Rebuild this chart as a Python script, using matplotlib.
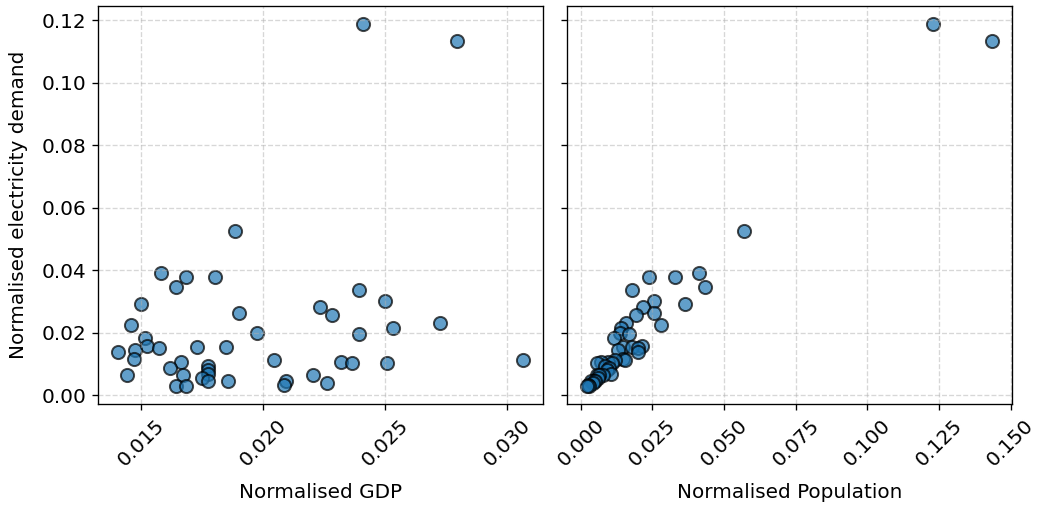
import numpy as np
import matplotlib
matplotlib.use("Agg")
import matplotlib.pyplot as plt

# normalised values per region
demand = [0.1187, 0.1132, 0.0526, 0.0391, 0.0379, 0.0379, 0.0348, 0.0336,
          0.0302, 0.0292, 0.0283, 0.0265, 0.0256, 0.0233, 0.0225, 0.0215,
          0.0199, 0.0196, 0.0184, 0.0157, 0.0154, 0.0154, 0.0152, 0.0145,
          0.0139, 0.0118, 0.0115, 0.0113, 0.0107, 0.0106, 0.0103, 0.0103,
          0.0093, 0.0088, 0.0083, 0.0070, 0.0065, 0.0065, 0.0065, 0.0055,
          0.0046, 0.0046, 0.0046, 0.0040, 0.0032, 0.0031, 0.0031]
gdp = [0.02408, 0.02794, 0.01884, 0.01580, 0.01682, 0.01802, 0.01644, 0.02391,
       0.02500, 0.01497, 0.02233, 0.01900, 0.02280, 0.02723, 0.01460, 0.02530,
       0.01976, 0.02391, 0.01514, 0.01523, 0.01727, 0.01848, 0.01571, 0.01476,
       0.01405, 0.01470, 0.02042, 0.03063, 0.02318, 0.01663, 0.02364, 0.02509,
       0.01775, 0.01617, 0.01775, 0.01775, 0.01442, 0.01671, 0.02205, 0.01750,
       0.01775, 0.01857, 0.02095, 0.02263, 0.02085, 0.01644, 0.01682]
population = [0.1228, 0.1434, 0.0569, 0.0414, 0.0328, 0.0238, 0.0435, 0.0179,
              0.0256, 0.0363, 0.0216, 0.0254, 0.0193, 0.0157, 0.0279, 0.0142,
              0.0136, 0.0168, 0.0115, 0.0212, 0.0148, 0.0177, 0.0200, 0.0130,
              0.0200, 0.0148, 0.0153, 0.0119, 0.0095, 0.0072, 0.0055, 0.0110,
              0.0085, 0.0100, 0.0090, 0.0107, 0.0078, 0.0055, 0.0065, 0.0060,
              0.0045, 0.0037, 0.0050, 0.0043, 0.0025, 0.0030, 0.0022]

plt.rcParams['font.size'] = 12

fig, (ax1, ax2) = plt.subplots(1, 2, figsize=(1041 / 120, 508 / 120), dpi=120, sharey=True)
fig.subplots_adjust(left=0.094, right=0.972, top=0.988, bottom=0.205, wspace=0.054)

ax1.scatter(gdp, demand, s=62, color='#1f77b4', alpha=0.7, edgecolor='k', linewidth=1.2)
ax1.set_xlabel('Normalised GDP', labelpad=8)
ax1.set_ylabel('Normalised electricity demand', labelpad=8)
ax1.grid(True, linestyle='--', alpha=0.5)
ax1.set_xticks([0.015, 0.020, 0.025, 0.030])
ax1.tick_params(axis='x', rotation=45)

ax2.scatter(population, demand, s=62, color='#1f77b4', alpha=0.7, edgecolor='k', linewidth=1.2)
ax2.set_xlabel('Normalised Population', labelpad=8)
ax2.grid(True, linestyle='--', alpha=0.5)
ax2.tick_params(axis='x', rotation=45)

plt.savefig('out.png', dpi=120)
